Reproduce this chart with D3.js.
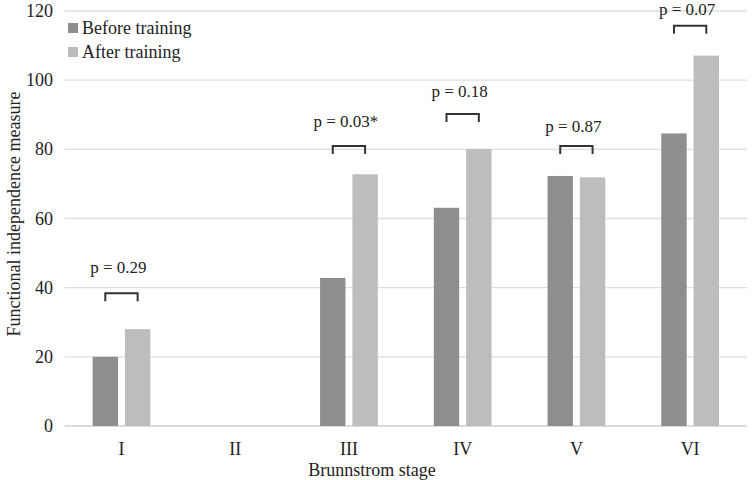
<!DOCTYPE html>
<html><head><meta charset="utf-8">
<script src="https://cdn.jsdelivr.net/npm/d3@7"></script>
<style>body{margin:0;background:#fff;} svg text{font-family:"Times New Roman","Liberation Serif",Times,serif;fill:#222;}</style>
</head><body><svg id="c" width="752" height="480"></svg>
<script>
const categories = ["I","II","III","IV","V","VI"];
const seriesNames = ["Before training","After training"];
const before = [20, null, 42.8, 63.1, 72.3, 84.6];
const after = [28, null, 72.8, 80.1, 71.9, 107.1];
const yTicks = [0,20,40,60,80,100,120];
const pLabels = ["p = 0.29", null, "p = 0.03*", "p = 0.18", "p = 0.87", "p = 0.07"];
const bracketLevel = [38.4, null, 81, 90.2, 81, 115.7];
const labelLevel = [44.2, null, 86.4, 95.1, 85, 118.8];
const colors = ["#8e8e8e","#bdbdbd"];

const svg = d3.select("#c");
const m = {l:64.6, r:5, t:11, b:54};
const W = 752, H = 480;
const x = d3.scaleBand().domain(categories).range([m.l, W-m.r]).padding(0);
const y = d3.scaleLinear().domain([0,120]).range([H-m.b, m.t]);
const x1 = d3.scaleBand().domain(seriesNames).range([28, x.bandwidth()-28]).paddingInner(0.215);

svg.append("g").selectAll("line").data(yTicks).join("line")
  .attr("x1", m.l).attr("x2", W-m.r)
  .attr("y1", d=>y(d)).attr("y2", d=>y(d))
  .attr("stroke", d=> d===0 ? "#d0d0d0" : "#dedede").attr("stroke-width",1.3);

svg.append("g").selectAll("text").data(yTicks).join("text")
  .attr("x", 53).attr("y", d=>y(d)+6).attr("text-anchor","end")
  .style("font-size","18px").text(d=>d);

const rows = categories.map((c,i)=>({c, vals:[before[i], after[i]]}));
const g = svg.append("g");
rows.forEach(r=>{
  r.vals.forEach((v,j)=>{
    if(v==null) return;
    g.append("rect")
      .attr("x", x(r.c)+x1(seriesNames[j]))
      .attr("width", x1.bandwidth())
      .attr("y", y(v)).attr("height", y(0)-y(v))
      .attr("fill", colors[j]);
  });
});

categories.forEach((c,i)=>{
  if(pLabels[i]==null) return;
  const xa = x(c)+x1(seriesNames[0])+x1.bandwidth()/2;
  const xb = x(c)+x1(seriesNames[1])+x1.bandwidth()/2;
  const yy = y(bracketLevel[i]);
  svg.append("path")
    .attr("d", `M${xa},${yy+8}V${yy}H${xb}V${yy+8}`)
    .attr("fill","none").attr("stroke","#333").attr("stroke-width",2);
  svg.append("text").attr("x",(xa+xb)/2 - 3).attr("y", y(labelLevel[i]))
    .attr("text-anchor","middle").style("font-size","17px").text(pLabels[i]);
});

svg.append("g").selectAll("text").data(categories).join("text")
  .attr("x", d=>x(d)+x.bandwidth()/2).attr("y", 455)
  .attr("text-anchor","middle").style("font-size","18px").text(d=>d);

svg.append("text").attr("x",372).attr("y",476).attr("text-anchor","middle")
  .style("font-size","18px").text("Brunnstrom stage");

svg.append("text").attr("transform","translate(20,214) rotate(-90)")
  .attr("text-anchor","middle").style("font-size","18px").text("Functional independence measure");

seriesNames.forEach((s,j)=>{
  const ly = 28 + j*24;
  svg.append("rect").attr("x",68).attr("y",ly-5).attr("width",10).attr("height",10).attr("fill",colors[j]);
  svg.append("text").attr("x",82).attr("y",ly+6).style("font-size","18px").text(s);
});
</script></body></html>
